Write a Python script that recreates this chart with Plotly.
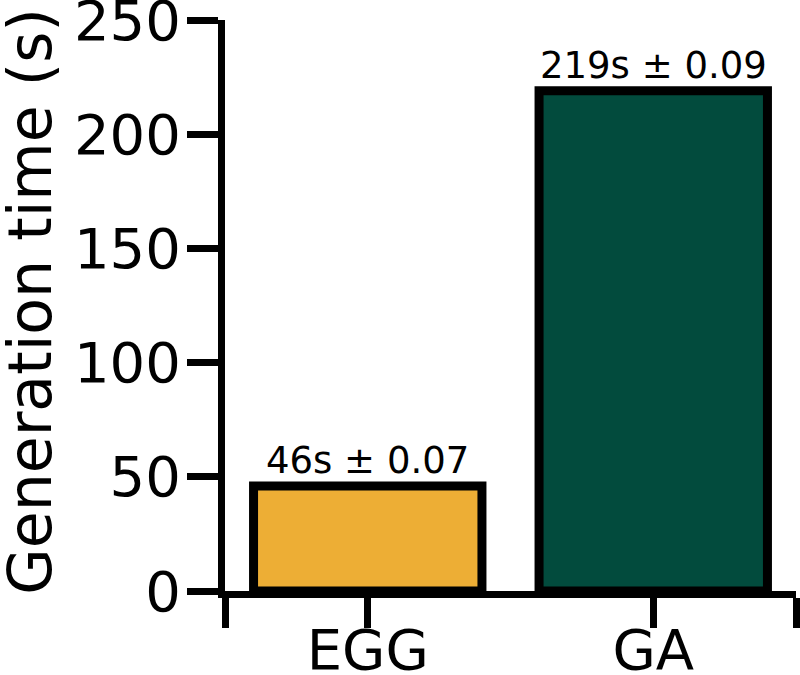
import plotly.graph_objects as go

# data
methods = ['EGG', 'GA']
gen_time = [46, 219]
labels = ['46s ± 0.07', '219s ± 0.09']
colors = ['#EDAE35', '#024B3D']

y_ticks = [0, 50, 100, 150, 200, 250]

FONT = 'DejaVu Sans'

fig = go.Figure()

fig.add_trace(go.Bar(
    x=[0, 1],
    y=gen_time,
    width=0.8,
    marker=dict(color=colors, line=dict(color='black', width=9)),
    cliponaxis=False,
    showlegend=False
))

# value labels above the bars
for i, (v, t) in enumerate(zip(gen_time, labels)):
    fig.add_annotation(
        x=i, y=v, text=t, showarrow=False,
        yanchor='bottom', yshift=2,
        font=dict(family=FONT, size=37, color='black')
    )

# y axis title as a rotated annotation (easier to place)
fig.add_annotation(
    text='Generation time (s)', textangle=-90, showarrow=False,
    xref='paper', yref='paper', x=-0.343, y=0.507,
    xanchor='center', yanchor='middle',
    font=dict(family=FONT, size=60, color='black')
)

fig.update_layout(
    width=800, height=675,
    margin=dict(l=225, r=4, t=20, b=84),
    plot_bgcolor='white',
    paper_bgcolor='white',
    font=dict(family=FONT, color='black'),
    xaxis=dict(
        range=[-0.5, 1.5],
        tickvals=[-0.5, 0, 1, 1.5],
        ticktext=['', methods[0], methods[1], ''],
        showline=True, linecolor='black', linewidth=7,
        ticks='outside', ticklen=30, tickwidth=7, tickcolor='black',
        tickfont=dict(size=56),
        ticklabelstandoff=-26,
        ticklabeloverflow='allow',
        automargin=False,
        showgrid=False, zeroline=False
    ),
    yaxis=dict(
        range=[0, 250],
        tickvals=y_ticks,
        showline=True, linecolor='black', linewidth=7,
        ticks='outside', ticklen=31, tickwidth=7, tickcolor='black',
        tickfont=dict(size=56),
        ticklabelstandoff=-5,
        ticklabeloverflow='allow',
        automargin=False,
        showgrid=False, zeroline=False
    )
)

fig.write_html('out.html', config={'displayModeBar': False},
               post_script="document.body.style.margin='0';document.body.style.overflow='hidden';")
